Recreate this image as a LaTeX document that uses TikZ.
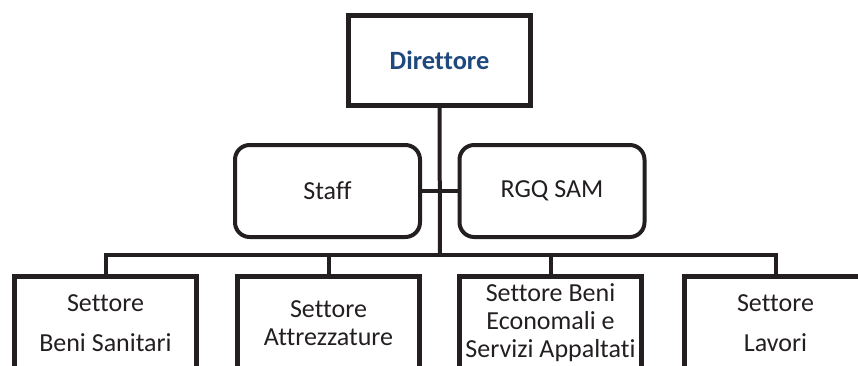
\documentclass[tikz,border=0pt]{standalone}
\usepackage{fontspec}
\setmainfont{Carlito}[RawFeature=-liga]
\usepackage{xcolor}
\definecolor{orgline}{RGB}{35,31,32}
\definecolor{orgblue}{RGB}{31,73,125}
\usetikzlibrary{positioning}

\begin{document}
\begin{tikzpicture}[
  x=0.75pt, y=-0.75pt,
  headbox/.style={
    rectangle, draw=orgline, line width=3.6pt,
    minimum width=136.5pt, minimum height=67.5pt,
    font=\fontsize{19.8}{22}\selectfont\bfseries,
    text=orgblue, align=center
  },
  staffbox/.style={
    rectangle, rounded corners=11pt, draw=orgline, line width=3pt,
    minimum width=138.75pt, minimum height=69pt,
    font=\fontsize{19.5}{22}\selectfont,
    text=orgline, align=center
  },
  unitbox/.style={
    rectangle, draw=orgline, line width=3.6pt,
    minimum width=136.5pt, minimum height=70pt,
    inner xsep=1pt,
    font=\fontsize{19.5}{21}\selectfont,
    text=orgline, align=center
  },
  widebox/.style={unitbox, font=\fontsize{19.5}{30}\selectfont},
  conn/.style={draw=orgline, line width=3pt}
]
\useasboundingbox (0,0) rectangle (858,365);
\clip (0,0) rectangle (858,365);

\node[headbox]  (dir)   at (439.5,60.5) {Direttore};
\node[staffbox] (staff) at (327.5,191)  {Staff};
\node[staffbox] (rgq)   at (552,191)    {RGQ SAM};

\node[widebox] (sanit) at (105.5,323) {Settore\\Beni Sanitari};
\node[unitbox] (attr)  at (328.5,323) {Settore\\Attrezzature};
\node[unitbox] (econ)  at (550.5,323) {Settore Beni\\Economali e\\Servizi Appaltati};
\node[widebox] (lav)   at (775.5,323) {Settore\\Lavori};

\coordinate (bus) at (440,255);

\draw[conn] (dir.south) -- (bus);
\draw[conn] (staff.east) -- (rgq.west);
\draw[conn] (sanit.north) |- (bus) -| (lav.north);
\draw[conn] (attr.north) -- (attr.north |- bus);
\draw[conn] (econ.north) -- (econ.north |- bus);
\end{tikzpicture}
\end{document}
